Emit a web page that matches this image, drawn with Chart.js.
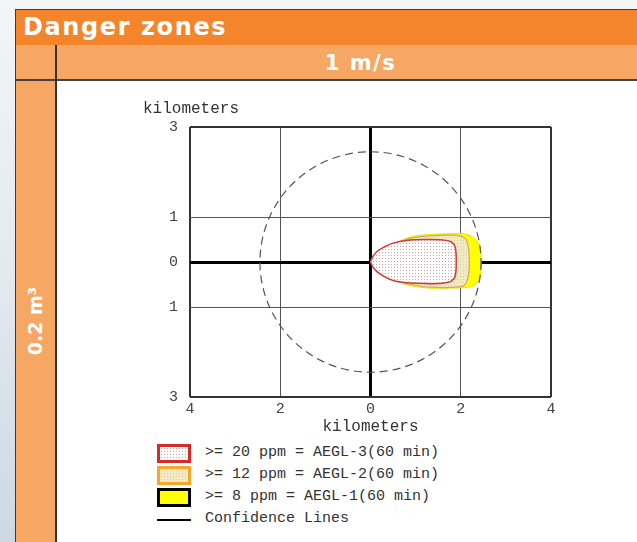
<!DOCTYPE html>
<html>
<head>
<meta charset="utf-8">
<script src="https://cdn.jsdelivr.net/npm/chart.js@4/dist/chart.umd.min.js"></script>
<style>
  body { margin: 0; width: 637px; height: 542px; overflow: hidden; position: relative;
         background: linear-gradient(to bottom, #f3f5f7 0%, #e3e9ef 50%, #cdd8e2 100%); font-family: "DejaVu Sans", sans-serif; }
  #panel { position: absolute; left: 15px; top: 9px; width: 640px; height: 540px; background: #fff;
           border-left: 1px solid #1d3c78; border-top: 1px solid #1d3c78; }
  #head { position: absolute; left: 0; top: 0; right: 0; height: 35px; background: #f5852a; }
  #head span { position: absolute; left: 7px; top: 3px; color: #fff; font-weight: bold; font-size: 24px; letter-spacing: 1.6px; }
  #row2 { position: absolute; left: 0; top: 35px; right: 0; height: 34px; background: #f7a764; border-bottom: 2px solid #444; }
  #row2 span { position: absolute; left: 307px; width: 75px; text-align: center; top: 6px; color: #fff; font-weight: bold; font-size: 21px; letter-spacing: 1.5px; }
  #col { position: absolute; left: 0; top: 71px; width: 39px; bottom: 0; background: #f7a764; }
  #vline { position: absolute; left: 39px; top: 35px; width: 2px; bottom: 0; background: #333; }
  #col span { position: absolute; left: 19px; top: 240px; transform: translate(-50%, -50%) rotate(-90deg);
              color: #fff; font-weight: bold; font-size: 19px; white-space: nowrap; }
  #chart { position: absolute; left: 120px; top: 95px; }
  #legend { position: absolute; left: 157px; top: 443px; font-family: "Liberation Mono", monospace; font-size: 15px; color: #333; }
  .item { height: 22px; position: relative; }
  .box { position: absolute; left: 0; top: 1px; width: 28px; height: 13px; border: 3px solid #000; }
  .line { position: absolute; left: 0; top: 10px; width: 34px; height: 2px; background: #000; }
  .txt { position: absolute; left: 48px; top: 1px; white-space: pre; }
</style>
</head>
<body>
<div id="panel">
  <div id="head"><span>Danger zones</span></div>
  <div id="row2"><span>1 m/s</span></div>
  <div id="col"><span>0.2 m³</span></div>
  <div id="vline"></div>
</div>
<canvas id="chart" width="450" height="345"></canvas>
<div id="legend"></div>
<script>
// threat footprint, km downwind (x) / crosswind (y)
const aegl3X = [0, 0.05, 0.15, 0.3, 0.5, 0.8, 1.2, 1.6, 1.8, 1.88, 1.9, 1.88, 1.8, 1.6, 1.2, 0.8, 0.5, 0.3, 0.15, 0.05, 0];
const aegl3Y = [0, 0.12, 0.24, 0.33, 0.42, 0.48, 0.5, 0.49, 0.44, 0.32, 0, -0.3, -0.42, -0.47, -0.48, -0.46, -0.41, -0.32, -0.22, -0.11, 0];
const aegl2X = [0, 0.3, 0.6, 0.9, 1.3, 1.9, 2.1, 2.17, 2.19, 2.17, 2.1, 1.9, 1.3, 0.9, 0.6, 0.3, 0];
const aegl2Y = [0, 0.33, 0.43, 0.53, 0.58, 0.59, 0.52, 0.32, 0, -0.3, -0.5, -0.56, -0.56, -0.5, -0.42, -0.31, 0];
const aegl1X = [0, 0.3, 0.6, 0.9, 1.3, 1.8, 2.1, 2.3, 2.42, 2.45, 2.42, 2.3, 2.1, 1.8, 1.3, 0.9, 0.6, 0.3, 0];
const aegl1Y = [0, 0.33, 0.44, 0.56, 0.61, 0.63, 0.62, 0.53, 0.35, 0, -0.35, -0.52, -0.57, -0.58, -0.58, -0.53, -0.44, -0.32, 0];
const confRadius = 2.45;

const labels = ['>= 20 ppm = AEGL-3(60 min)', '>= 12 ppm = AEGL-2(60 min)', '>= 8 ppm = AEGL-1(60 min)', 'Confidence Lines'];
const xTicks = [-4, -2, 0, 2, 4];
const yTicks = [-3, -1, 0, 1, 3];

function dotTile(bg, dot) {
  const c = document.createElement('canvas'); c.width = 3; c.height = 3;
  const g = c.getContext('2d');
  g.fillStyle = bg; g.fillRect(0, 0, 3, 3);
  g.fillStyle = dot; g.fillRect(1, 1, 1, 1);
  return c;
}
const redTile = dotTile('#ffffff', '#d99a9a');
const tanTile = dotTile('#f2eac4', '#ddd09a');
const ctx = document.getElementById('chart').getContext('2d');

function pts(xs, ys) { return xs.map((x, i) => ({ x: x, y: ys[i] })); }

const mono = { family: '"Liberation Mono", monospace', size: 15 };

function gw(c, lim) { const v = c.tick.value; return v === 0 ? 3 : (Math.abs(v) === lim ? 2 : 1); }
function gc(c, lim) { const v = c.tick.value; return v === 0 ? '#000' : (Math.abs(v) === lim ? '#333' : '#555'); }

const extras = {
  id: 'extras',
  afterDatasetsDraw(chart) {
    const { ctx, chartArea, scales: { x, y } } = chart;
    const cx = x.getPixelForValue(0), cy = y.getPixelForValue(0);
    const rx = x.getPixelForValue(confRadius) - cx, ry = cy - y.getPixelForValue(confRadius);
    ctx.save();
    ctx.strokeStyle = '#555'; ctx.lineWidth = 1.2; ctx.setLineDash([8, 5]);
    ctx.beginPath(); ctx.ellipse(cx, cy, rx, ry, 0, 0, Math.PI * 2); ctx.stroke();
    ctx.restore();
  },
  afterDraw(chart) {
    const { ctx, chartArea } = chart;
    ctx.save();
    ctx.font = '16px "Liberation Mono", monospace';
    ctx.fillStyle = '#333'; ctx.textBaseline = 'middle';
    ctx.textAlign = 'left'; ctx.fillText('kilometers', 23, 14);
    ctx.textAlign = 'center'; ctx.fillText('kilometers', (chartArea.left + chartArea.right) / 2, chartArea.bottom + 30);
    ctx.restore();
  }
};

const chart = new Chart(ctx, {
  type: 'scatter',
  data: {
    datasets: [
      { label: labels[0], data: pts(aegl3X, aegl3Y), showLine: true, fill: 'shape', tension: 0.3,
        borderColor: '#cf3b3b', borderWidth: 1.5, backgroundColor: ctx.createPattern(redTile, 'repeat'), pointRadius: 0 },
      { label: labels[1], data: pts(aegl2X, aegl2Y), showLine: true, fill: 'shape', tension: 0.3,
        borderColor: '#c9a96a', borderWidth: 1.2, backgroundColor: ctx.createPattern(tanTile, 'repeat'), pointRadius: 0 },
      { label: labels[2], data: pts(aegl1X, aegl1Y), showLine: true, fill: 'shape', tension: 0.3,
        borderColor: '#e8e000', borderWidth: 1, backgroundColor: '#ffff00', pointRadius: 0 }
    ]
  },
  options: {
    responsive: false,
    animation: false,
    layout: { padding: { top: 32, right: 19, left: 0, bottom: 0 } },
    plugins: { legend: { display: false }, tooltip: { enabled: false } },
    scales: {
      x: {
        min: -4, max: 4, z: 1,
        afterBuildTicks: s => { s.ticks = xTicks.map(v => ({ value: v })); },
        afterFit: s => { s.height = 43; },
        border: { display: false },
        grid: { drawTicks: false, lineWidth: c => gw(c, 4), color: c => gc(c, 4) },
        ticks: { padding: 3, color: '#444', font: mono, callback: v => String(Math.abs(v)), maxRotation: 0 }
      },
      y: {
        min: -3, max: 3, z: 1,
        afterBuildTicks: s => { s.ticks = yTicks.map(v => ({ value: v })); },
        afterFit: s => { s.width = 70; },
        border: { display: false },
        grid: { drawTicks: false, lineWidth: c => gw(c, 3), color: c => gc(c, 3) },
        ticks: { padding: 12, color: '#444', font: mono, callback: v => String(Math.abs(v)) }
      }
    }
  },
  plugins: [extras]
});

// legend
const boxStyles = [
  'border-color:#d42a2a;background-image:url(' + redTile.toDataURL() + ')',
  'border-color:#f4a72a;background-image:url(' + tanTile.toDataURL() + ')',
  'border-color:#000;background:#ffff00'
];
document.getElementById('legend').innerHTML = chart.data.datasets.map((d, i) =>
  '<div class="item"><div class="box" style="' + boxStyles[i] + '"></div><div class="txt">' +
  d.label.replace(/&/g, '&amp;').replace(/</g, '&lt;').replace(/>/g, '&gt;') + '</div></div>'
).join('') + '<div class="item"><div class="line"></div><div class="txt">' + labels[3] + '</div></div>';
</script>
</body>
</html>
